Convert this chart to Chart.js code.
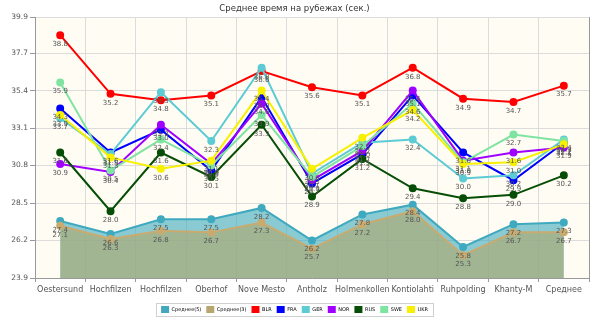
<!DOCTYPE html>
<html>
<head>
<meta charset="utf-8">
<script src="https://cdn.jsdelivr.net/npm/chart.js@4/dist/chart.umd.min.js"></script>
<style>
  html, body { margin: 0; padding: 0; background: #fff; }
  #wrap { width: 600px; height: 321px; }
</style>
</head>
<body>
<div id="wrap"><canvas id="timeChart" width="600" height="321"></canvas></div>
<script>
const categories = ['Oestersund', 'Hochfilzen', 'Hochfilzen', 'Oberhof', 'Nove Mesto', 'Antholz',
  'Holmenkollen', 'Kontiolahti', 'Ruhpolding', 'Khanty-M', 'Среднее'];
const yTicks = [23.9, 26.2, 28.5, 30.8, 33.1, 35.4, 37.7, 39.9];

const avg5 = [27.4, 26.6, 27.5, 27.5, 28.2, 26.2, 27.8, 28.4, 25.8, 27.2, 27.3];
const avg3 = [27.1, 26.3, 26.8, 26.7, 27.3, 25.7, 27.2, 28.0, 25.3, 26.7, 26.7];
const blr = [38.8, 35.2, 34.8, 35.1, 36.6, 35.6, 35.1, 36.8, 34.9, 34.7, 35.7];
const fra = [34.3, 31.6, 33.0, 30.5, 35.0, 29.7, 31.5, 35.1, 31.6, 29.9, 32.2];
const ger = [33.7, 31.5, 35.3, 32.3, 36.8, 30.3, 32.2, 32.4, 30.0, 30.2, 32.4];
const nor = [30.9, 30.4, 33.3, 30.9, 34.6, 29.9, 31.7, 35.4, 31.1, 31.6, 31.9];
const rus = [31.6, 28.0, 31.6, 30.1, 33.3, 28.9, 31.2, 29.4, 28.8, 29.0, 30.2];
const swe = [35.9, 30.5, 32.4, 30.8, 33.9, 30.1, 32.0, 34.6, 31.0, 32.7, 32.3];
const ukr = [33.9, 31.3, 30.6, 31.1, 35.4, 30.6, 32.5, 34.2, 30.9, 31.0, 32.1];

const FONT = '"DejaVu Sans", Verdana, sans-serif';

function nation(label, data, color, order) {
  return {
    label: label,
    data: data,
    borderColor: color,
    backgroundColor: color,
    pointBackgroundColor: color,
    pointBorderColor: color,
    borderWidth: 2,
    pointRadius: 3,
    fill: false,
    order: order,
    legendColor: color
  };
}

// cream plot background, white outside
const backgroundPlugin = {
  id: 'backgroundPlugin',
  beforeDraw(chart) {
    const { ctx, chartArea } = chart;
    ctx.save();
    ctx.fillStyle = '#ffffff';
    ctx.fillRect(0, 0, chart.width, chart.height);
    ctx.fillStyle = '#fffdf3';
    ctx.fillRect(chartArea.left, chartArea.top, chartArea.right - chartArea.left, chartArea.bottom - chartArea.top);
    ctx.restore();
  }
};

// value under every point
const valueLabels = {
  id: 'valueLabels',
  afterDatasetsDraw(chart) {
    const ctx = chart.ctx;
    ctx.save();
    ctx.font = '7px ' + FONT;
    ctx.fillStyle = '#555';
    ctx.textAlign = 'center';
    ctx.textBaseline = 'middle';
    chart.data.datasets.forEach((ds, i) => {
      chart.getDatasetMeta(i).data.forEach((pt, j) => {
        ctx.fillText(ds.data[j].toFixed(1), pt.x, pt.y + 9);
      });
    });
    ctx.restore();
  }
};

// right border of plot + frame around legend
const framePlugin = {
  id: 'framePlugin',
  afterDraw(chart) {
    const { ctx, chartArea, legend } = chart;
    ctx.save();
    ctx.strokeStyle = '#999';
    ctx.lineWidth = 1;
    ctx.beginPath();
    ctx.moveTo(Math.round(chartArea.right) + 0.5, chartArea.top);
    ctx.lineTo(Math.round(chartArea.right) + 0.5, chartArea.bottom);
    ctx.stroke();

    const boxes = legend.legendHitBoxes;
    if (boxes && boxes.length) {
      const first = boxes[0];
      const last = boxes[boxes.length - 1];
      const x0 = Math.round(first.left - 5) + 0.5;
      const x1 = Math.round(last.left + last.width + 5) + 0.5;
      const y0 = Math.round(first.top - 3) + 0.5;
      const y1 = Math.round(first.top + first.height + 3) + 0.5;
      ctx.strokeStyle = '#d0d0d0';
      ctx.strokeRect(x0, y0, x1 - x0, y1 - y0);
    }
    ctx.restore();
  }
};

const ctx = document.getElementById('timeChart').getContext('2d');

const timeChart = new Chart(ctx, {
  type: 'line',
  data: {
    labels: categories,
    datasets: [
      {
        label: 'Среднее(5)',
        data: avg5,
        borderColor: '#3fa9bf',
        backgroundColor: 'rgba(60, 170, 190, 0.6)',
        pointBackgroundColor: '#3fa9bf',
        pointBorderColor: '#3fa9bf',
        borderWidth: 2,
        pointRadius: 3,
        fill: 'start',
        order: 100,
        legendColor: '#45a7bd'
      },
      {
        label: 'Среднее(3)',
        data: avg3,
        borderColor: '#c9ab6f',
        backgroundColor: 'rgba(170, 172, 122, 0.72)',
        pointBackgroundColor: '#c9ab6f',
        pointBorderColor: '#c9ab6f',
        borderWidth: 2,
        pointRadius: 3,
        fill: 'start',
        order: 99,
        legendColor: '#b8a671'
      },
      nation('BLR', blr, '#ff0000', 9),
      nation('FRA', fra, '#0000ff', 8),
      nation('GER', ger, '#5ccbd4', 7),
      nation('NOR', nor, '#9f00ff', 6),
      nation('RUS', rus, '#064d06', 5),
      nation('SWE', swe, '#7fe3a1', 4),
      nation('UKR', ukr, '#f7f000', 3)
    ]
  },
  options: {
    responsive: false,
    animation: false,
    layout: {
      padding: { top: 2, right: 11, bottom: -2, left: 0 }
    },
    elements: {
      line: { tension: 0 }
    },
    scales: {
      x: {
        offset: true,
        grid: { offset: true, color: '#dcdcdc', tickColor: '#999', tickLength: 4 },
        border: { color: '#999' },
        ticks: {
          font: { family: FONT, size: 8 },
          color: '#555',
          maxRotation: 0,
          autoSkip: false,
          padding: 3
        },
        afterFit(scale) { scale.height = 23; }
      },
      y: {
        min: 23.9,
        max: 39.9,
        grid: { color: '#dcdcdc', tickColor: '#999', tickLength: 5 },
        border: { color: '#999' },
        ticks: {
          font: { family: FONT, size: 7.5 },
          color: '#555',
          padding: 2,
          callback: function(value) {
            return value.toFixed(1);
          }
        },
        afterBuildTicks(scale) {
          scale.ticks = yTicks.map(v => ({ value: v }));
        },
        afterFit(scale) { scale.width = 35; }
      }
    },
    plugins: {
      title: {
        display: true,
        text: 'Среднее время на рубежах (сек.)',
        color: '#333',
        font: { family: FONT, size: 8.5, weight: 'normal' },
        padding: { top: 2, bottom: 3 }
      },
      legend: {
        position: 'bottom',
        labels: {
          boxWidth: 8,
          boxHeight: 7,
          padding: 5,
          color: '#444',
          font: { family: FONT, size: 5 },
          sort: (a, b) => a.datasetIndex - b.datasetIndex,
          generateLabels(chart) {
            return chart.data.datasets.map((ds, i) => ({
              text: ds.label,
              fillStyle: ds.legendColor,
              strokeStyle: ds.legendColor,
              lineWidth: 0,
              hidden: false,
              datasetIndex: i
            }));
          }
        }
      },
      tooltip: { enabled: false }
    }
  },
  plugins: [backgroundPlugin, valueLabels, framePlugin]
});
</script>
</body>
</html>
